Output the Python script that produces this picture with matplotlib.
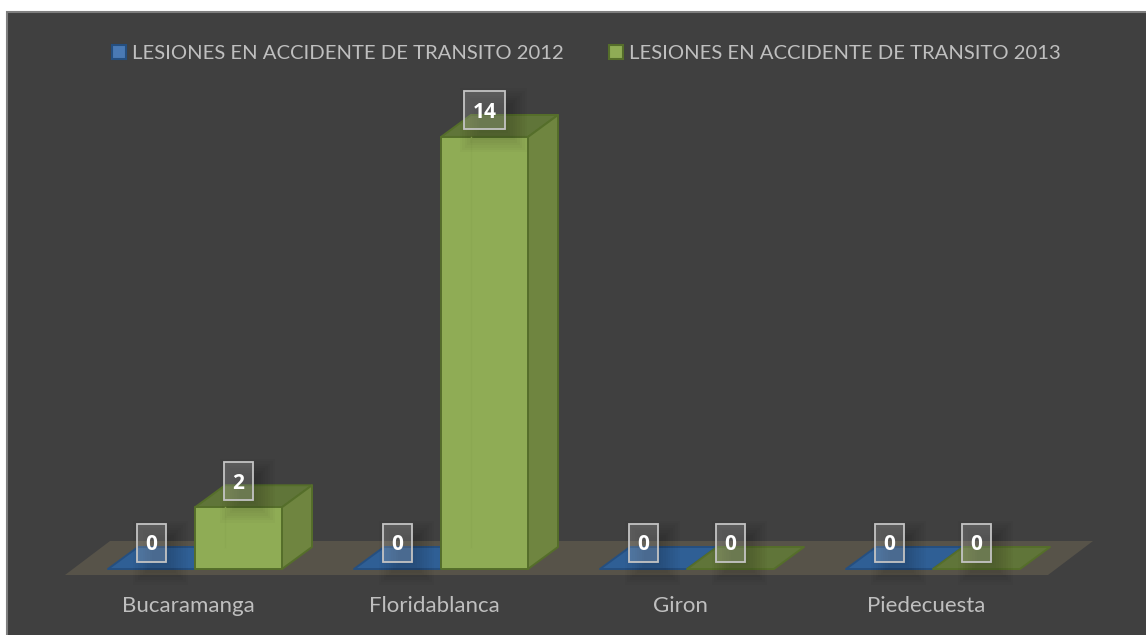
import matplotlib
matplotlib.use("Agg")
import matplotlib.pyplot as plt
from matplotlib.patches import Polygon, Rectangle, Patch

categories = ["Bucaramanga", "Floridablanca", "Giron", "Piedecuesta"]
series_names = ["LESIONES EN ACCIDENTE DE TRANSITO 2012", "LESIONES EN ACCIDENTE DE TRANSITO 2013"]
values_2012 = [0, 0, 0, 0]
values_2013 = [2, 14, 0, 0]

W, H = 1146, 635
FONT = "Lato"
PX_X0, PX_STEP = 195.0, 246.0
PX_Y0, PX_UNIT = 569.0, 30.86
fig = plt.figure(figsize=(W / 100, H / 100), dpi=100, facecolor="white")
ax = fig.add_axes([0, 0, 1, 1])
ax.set_xlim((0 - PX_X0) / PX_STEP, (W - PX_X0) / PX_STEP)
ax.set_ylim((PX_Y0 - H) / PX_UNIT, PX_Y0 / PX_UNIT)
ax.axis("off")

px = lambda p: p / PX_STEP
py = lambda p: p / PX_UNIT
BW = px(87)
DX, DY = px(30), py(22)

# panel
ax.add_patch(Rectangle((px(6.5 - PX_X0), py(PX_Y0 - H - 5)), px(W + 10), py(H - 11.5 + 5),
                       fc="#404040", ec="#7f7f7f", lw=1.5, zorder=0))
# floor
ax.add_patch(Polygon([(px(65 - PX_X0), py(-6)), (px(1048 - PX_X0), py(-6)),
                      (px(1093 - PX_X0), py(28)), (px(110 - PX_X0), py(28))],
                     fc="#575349", ec="none", zorder=1))

STYLE = {
    0: dict(front="#4a7ab5", top="#2f5f95", side="#3a6496", edge="#254f80"),
    1: dict(front="#8fac55", top="#607539", side="#6f8540", edge="#556e2a"),
}


def bar3d(x, v, s, z):
    edge = dict(ec=s["edge"], lw=1.4, joinstyle="round", zorder=z)
    ax.add_patch(Polygon([(x, v), (x + BW, v), (x + BW + DX, v + DY), (x + DX, v + DY)],
                         fc=s["top"], **edge))
    if v > 0:
        ax.add_patch(Polygon([(x + BW, 0), (x + BW + DX, DY), (x + BW + DX, v + DY), (x + BW, v)],
                             fc=s["side"], **edge))
        ax.add_patch(Rectangle((x, 0), BW, v, fc=s["front"], **edge))
        ax.plot([x + DX, x + DX], [DY, v], color="#8ba852", lw=1, zorder=z + 0.1)


def label(xc, v, z=20):
    yc = v + py(26.5)
    w = 29 if v < 10 else 41
    # soft drop shadow, offset down and to the right of the box
    for k in range(9):
        g = 13 - 2.4 * k
        ax.add_patch(Rectangle((xc + px(9 - w / 2 - g), yc - py(10 + 19 + g)),
                               px(w + 2 * g), py(38 + 2 * g),
                               fc="black", ec="none", alpha=0.018, zorder=z - 1))
    ax.add_patch(Rectangle((xc - px(w / 2), yc - py(19)), px(w), py(38),
                           fc="white", alpha=0.17, ec="none", zorder=z))
    ax.add_patch(Rectangle((xc - px(w / 2), yc - py(19)), px(w), py(38),
                           fc="none", ec="#c4c4c4", lw=1.3, zorder=z + 1))
    ax.text(xc, yc, str(v), ha="center", va="center_baseline", color="white",
            fontsize=15, fontweight="bold", family="Open Sans", zorder=z + 2)


for i in range(len(categories)):
    bar3d(i - BW, values_2012[i], STYLE[0], 3)
    bar3d(i, values_2013[i], STYLE[1], 4)
for i in range(len(categories)):
    label(i - BW / 2, values_2012[i])
    label(i + BW / 2, values_2013[i])
    ax.text(i - px(7), py(-37), categories[i], ha="center", va="center",
            color="#bfbfbf", fontsize=16, family=FONT, zorder=5)

handles = [Patch(fc=STYLE[0]["front"], ec="#254f80", lw=1.5, label=series_names[0]),
           Patch(fc=STYLE[1]["front"], ec="#556e2a", lw=1.5, label=series_names[1])]
leg = ax.legend(handles=handles, ncol=2, loc="center left",
                bbox_to_anchor=(112 / W, 1 - 53.5 / H), bbox_transform=fig.transFigure,
                frameon=False, borderpad=0, borderaxespad=0,
                handlelength=0.67, handleheight=0.67, handletextpad=0.3, columnspacing=2.28,
                prop=dict(family=FONT, size=14.55), labelcolor="#bfbfbf")

fig.savefig("out.png", dpi=100, facecolor="white")
